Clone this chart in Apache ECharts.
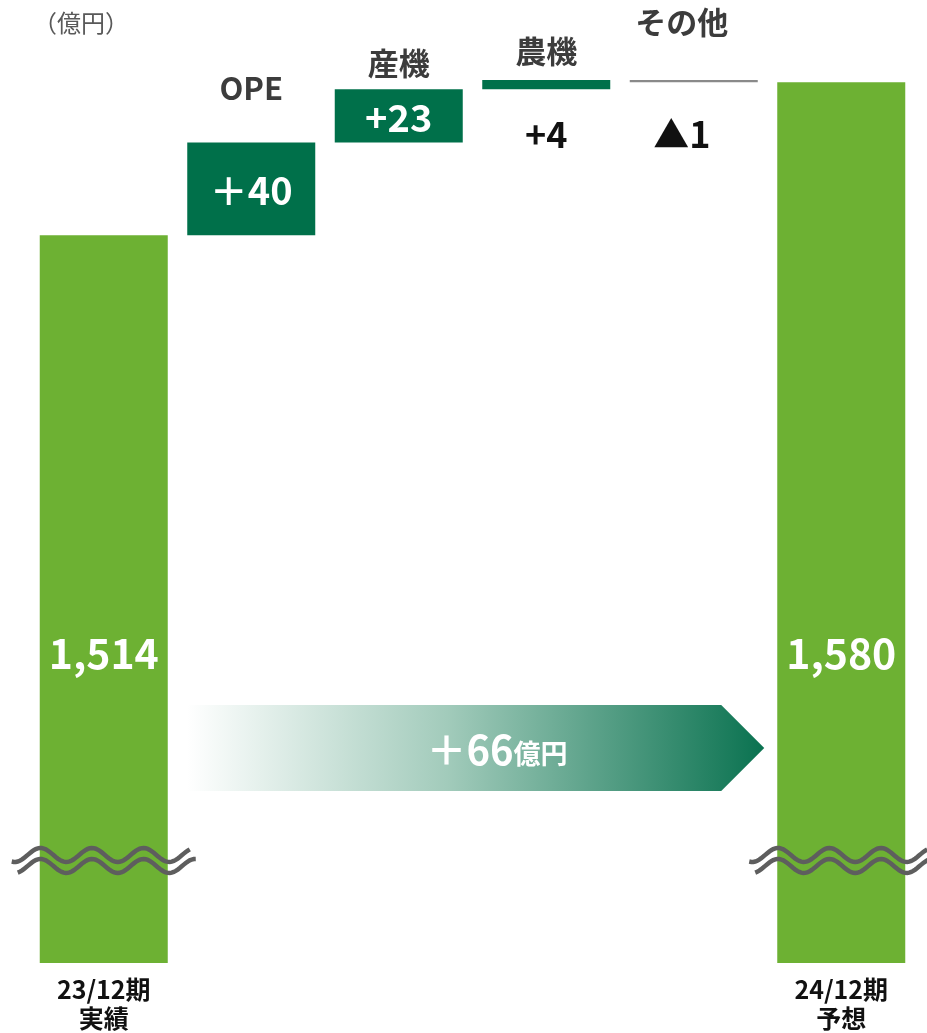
<!DOCTYPE html>
<html>
<head>
<meta charset="utf-8">
<script src="https://cdn.jsdelivr.net/npm/echarts@6/dist/echarts.min.js"></script>
<style>
  html, body { margin: 0; padding: 0; background: #ffffff; }
  #chart { width: 927px; height: 1033px; }
</style>
</head>
<body>
<div id="chart"></div>
<script>
// ---- data ----
const categories = ['23/12期\n実績', 'OPE', '産機', '農機', 'その他', '24/12期\n予想'];
const startValue = 1514;
const changes = [40, 23, 4, -1];
const endValue = 1580;
const changeLabels = ['＋40', '+23', '+4', '▲1'];
const totalLabels = ['1,514', '1,580'];
const totalChangeValue = '＋66';
const totalChangeUnit = '億円';
const unitLabel = '（億円）';

// ---- styling ----
const FONT = "'Noto Sans CJK JP', 'Noto Sans', sans-serif";
const GREEN = '#6db133';
const DARK_GREEN = '#00704a';
const GREY = '#8a8a8a';
const Y_MIN = 1200;
const Y_MAX = 1600;

// waterfall: invisible base + visible delta, stacked
const baseData = [0];
const deltaData = ['-'];
let running = startValue;
changes.forEach(c => {
  if (c >= 0) { baseData.push(running); deltaData.push(c); }
  else { baseData.push(running + c); deltaData.push(-c); }
  running += c;
});
baseData.push(0);
deltaData.push('-');
const totalData = [startValue, '-', '-', '-', '-', endValue];

const chart = echarts.init(document.getElementById('chart'));

chart.setOption({
  animation: false,
  grid: { left: 30, right: 12, top: 36, bottom: 67 },
  xAxis: {
    type: 'category',
    data: categories,
    axisLine: { show: false },
    axisTick: { show: false },
    axisLabel: {
      interval: 0,
      margin: 12,
      fontFamily: FONT,
      fontSize: 25,
      fontWeight: 'bold',
      lineHeight: 29,
      color: '#111111',
      formatter: (v, i) => (i === 0 || i === categories.length - 1) ? v : ''
    }
  },
  yAxis: { type: 'value', min: Y_MIN, max: Y_MAX, show: false },
  series: [
    {
      name: 'base', type: 'bar', stack: 'w', barWidth: 128, clip: true,
      itemStyle: { color: 'rgba(0,0,0,0)' },
      data: baseData
    },
    {
      name: 'change', type: 'bar', stack: 'w', barWidth: 128, clip: true,
      itemStyle: { color: p => changes[p.dataIndex - 1] < 0 ? GREY : DARK_GREEN },
      data: deltaData
    },
    {
      name: 'total', type: 'bar', stack: 'w', barWidth: 128, clip: true,
      itemStyle: { color: GREEN },
      data: totalData
    }
  ]
});

// ---- text and decorations placed from the axis scales ----
const px = (i, v) => chart.convertToPixel({ gridIndex: 0 }, [i, v]);

const graphics = [];

graphics.push({
  type: 'text', left: 33, top: 11, z: 100,
  style: { text: unitLabel, font: `24px ${FONT}`, fill: '#595959' }
});

// category names above the change bars, offset from each bar's top
const nameOffsets = [-54, -26, -29, -58];
const nameShiftX = [0, 0, 0, -12];
let run = startValue;
changes.forEach((c, k) => {
  const i = k + 1;
  const top = Math.max(run, run + c);
  const bottom = Math.min(run, run + c);
  const [cx, yTop] = px(i, top);
  const [, yBottom] = px(i, bottom);
  graphics.push({
    type: 'text', x: cx + nameShiftX[k], y: yTop + nameOffsets[k], z: 100,
    style: {
      text: categories[i], font: `bold 31px ${FONT}`, fill: '#3c3c3c',
      textAlign: 'center', textVerticalAlign: 'middle'
    }
  });
  const tall = (yBottom - yTop) > 30;
  graphics.push({
    type: 'text', x: cx + nameShiftX[k],
    y: tall ? (yTop + yBottom) / 2 + 2 : yBottom + (c < 0 ? 52 : 45),
    z: 100,
    style: {
      text: changeLabels[k],
      font: `bold ${tall ? 38 : 36}px ${FONT}`,
      fill: tall ? '#ffffff' : '#111111',
      textAlign: 'center', textVerticalAlign: 'middle'
    }
  });
  run += c;
});

// value labels inside the total bars
[0, categories.length - 1].forEach((i, k) => {
  const [cx] = px(i, startValue);
  graphics.push({
    type: 'text', x: cx, y: 653, z: 100,
    style: {
      text: totalLabels[k], font: `bold 41px ${FONT}`, fill: '#ffffff',
      textAlign: 'center', textVerticalAlign: 'middle'
    }
  });
});

// axis break marks (double wavy line) across the total bars
function wave(x0, x1, yc, phaseX) {
  const pts = [];
  for (let x = x0; x <= x1; x += 2) {
    pts.push([x, yc + 7 * Math.cos((x - phaseX) / 51.5 * 2 * Math.PI)]);
  }
  return pts;
}
[0, categories.length - 1].forEach(i => {
  const [cx] = px(i, startValue);
  const yc = 855;
  [[-92, 87, 0], [-86, 92, 11]].forEach(([a, b, dy]) => {
    graphics.push({
      type: 'polyline', z: 100,
      shape: { points: wave(cx + a, cx + b, yc + dy, cx - 89), smooth: 0 },
      style: { stroke: '#5e5e5e', lineWidth: 4.5, fill: null, lineCap: 'butt' }
    });
  });
});

// overall change arrow
const [xa] = px(1, startValue);
const [xb] = px(categories.length - 1, endValue);
const arrowLeft = xa - 64;
const arrowTip = xb - 77;
const arrowTop = 705, arrowBottom = 791;
graphics.push({
  type: 'polygon', z: 50,
  shape: {
    points: [
      [arrowLeft, arrowTop], [arrowTip - 43, arrowTop], [arrowTip, (arrowTop + arrowBottom) / 2],
      [arrowTip - 43, arrowBottom], [arrowLeft, arrowBottom]
    ]
  },
  style: {
    fill: new echarts.graphic.LinearGradient(0, 0, 1, 0, [
      { offset: 0, color: '#ffffff' },
      { offset: 0.45, color: '#a2cbbb' },
      { offset: 1, color: '#0a7250' }
    ])
  }
});
graphics.push({
  type: 'text', x: 497, y: 750, z: 100,
  style: {
    text: `{a|${totalChangeValue}}{b|${totalChangeUnit}}`,
    rich: {
      a: { font: `bold 40px ${FONT}`, fill: '#ffffff', verticalAlign: 'bottom' },
      b: { font: `bold 27px ${FONT}`, fill: '#ffffff', verticalAlign: 'bottom', padding: [0, 0, 3, 0] }
    },
    textAlign: 'center', textVerticalAlign: 'middle'
  }
});

chart.setOption({ graphic: graphics });
</script>
</body>
</html>
